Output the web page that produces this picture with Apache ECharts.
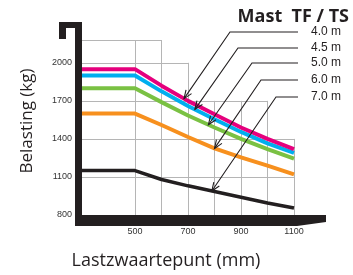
<!DOCTYPE html>
<html>
<head>
<meta charset="utf-8">
<script src="https://cdn.jsdelivr.net/npm/echarts@6/dist/echarts.min.js"></script>
<style>
  html, body { margin: 0; padding: 0; background: #fff; }
  #chart { width: 353px; height: 275px; }
</style>
</head>
<body>
<div id="chart"></div>
<script>
// lastzwaartepunt (mm) en belasting (kg) per mast
var distances = [300, 400, 500, 600, 700, 800, 900, 1000, 1100];
var mast40 = [1950, 1950, 1950, 1820, 1700, 1595, 1490, 1400, 1320];
var mast45 = [1900, 1900, 1900, 1775, 1660, 1555, 1455, 1365, 1290];
var mast50 = [1800, 1800, 1800, 1690, 1585, 1490, 1400, 1320, 1245];
var mast60 = [1600, 1600, 1600, 1510, 1415, 1325, 1255, 1190, 1120];
var mast70 = [1150, 1150, 1150, 1080, 1030, 985, 940, 895, 855];
var mastNames = ['4.0 m', '4.5 m', '5.0 m', '6.0 m', '7.0 m'];
var xTicks = [500, 700, 900, 1100];
var yTicks = [800, 1100, 1400, 1700, 2000];

// getrapt raster achter de lijnen
var gridV = [500, 600, 700, 800, 900, 1000, 1100];
var gridVTop = [2180, 2180, 2000, 1700, 1700, 1700, 1400];
var gridH = [2180, 2000, 1700, 1400, 1100];
var gridHEnd = [600, 700, 1000, 1100, 1100];

var allMasts = [mast40, mast45, mast50, mast60, mast70];
var colors = ['#E5007D', '#00AEEF', '#7AC143', '#F7901E', '#231F20'];
var ink = '#231F20';

var chartDom = document.getElementById('chart');
var myChart = echarts.init(chartDom);

var gridLines = [];
gridV.forEach(function (x, i) {
  gridLines.push({ coords: [[x, 800], [x, gridVTop[i]]] });
});
gridH.forEach(function (y, i) {
  gridLines.push({ coords: [[300, y], [gridHEnd[i], y]] });
});

var series = [{
  type: 'lines',
  coordinateSystem: 'cartesian2d',
  silent: true,
  z: 1,
  lineStyle: { color: '#b5b5b5', width: 1, opacity: 1 },
  data: gridLines
}];
// 7.0 m eerst, 4.0 m bovenop
for (var i = allMasts.length - 1; i >= 0; i--) {
  series.push({
    name: mastNames[i],
    type: 'line',
    z: 3,
    showSymbol: false,
    lineStyle: { color: colors[i], width: i === 4 ? 3.5 : 4 },
    data: distances.map(function (d, j) { return [d, allMasts[i][j]]; })
  });
}

var option = {
  animation: false,
  grid: { left: 82, right: 59, top: 40, bottom: 60 },
  xAxis: {
    type: 'value',
    min: 300,
    max: 1100,
    interval: 100,
    axisLine: { show: false },
    axisTick: { show: false },
    splitLine: { show: false },
    axisLabel: {
      margin: 12,
      fontSize: 9,
      color: '#333',
      fontFamily: 'Liberation Sans',
      formatter: function (v) { return xTicks.indexOf(v) >= 0 ? v : ''; }
    }
  },
  yAxis: {
    type: 'value',
    min: 800,
    max: 2180,
    interval: 300,
    axisLine: { show: false },
    axisTick: { show: false },
    splitLine: { show: false },
    axisLabel: {
      margin: 10,
      fontSize: 9,
      color: '#333',
      fontFamily: 'Liberation Sans',
      formatter: function (v) { return yTicks.indexOf(v) >= 0 ? v : ''; }
    }
  },
  series: series
};
option && myChart.setOption(option);

// ---- heftruck-vorm, titels en verwijzingen ----
function px(x, y) { return myChart.convertToPixel({ gridIndex: 0 }, [x, y]); }
function valueAt(arr, x) {
  for (var k = 0; k < distances.length - 1; k++) {
    if (x >= distances[k] && x <= distances[k + 1]) {
      var t = (x - distances[k]) / (distances[k + 1] - distances[k]);
      return arr[k] + t * (arr[k + 1] - arr[k]);
    }
  }
  return arr[arr.length - 1];
}

function drawExtras() {
  var o = px(300, 800);
  var e = px(1100, 800);
  var topY = px(300, 2180)[1] - 18;
  var ox = o[0], oy = o[1], ex = e[0];

  var graphic = [];
  graphic.push({
    type: 'polygon',
    z: 10,
    shape: {
      points: [
        [ox - 23, topY], [ox, topY], [ox, oy], [ex + 32, oy], [ex + 32, oy + 7],
        [ex + 3, oy + 11], [ox - 7, oy + 11], [ox - 7, topY + 6], [ox - 16, topY + 6],
        [ox - 16, topY + 17], [ox - 23, topY + 17]
      ]
    },
    style: { fill: ink }
  });

  // pijlen van label naar curve
  var tipX = [685, 726, 777, 800, 790];
  var elbows = [[230, 32], [238, 48], [252, 63], [261, 80], [276, 97]];
  var labelX = 311, lineEnd = 298;
  tipX.forEach(function (tx, i) {
    var tip = px(tx, valueAt(allMasts[i], tx));
    var el = elbows[i];
    graphic.push({
      type: 'polyline',
      z: 11,
      shape: { points: [[lineEnd, el[1]], [el[0], el[1]], [tip[0], tip[1]]] },
      style: { stroke: ink, lineWidth: 1.1, fill: null }
    });
    var ang = Math.atan2(el[1] - tip[1], el[0] - tip[0]);
    var len = 9, spread = 0.38;
    graphic.push({
      type: 'polyline',
      z: 11,
      shape: {
        points: [
          [tip[0] + len * Math.cos(ang - spread), tip[1] + len * Math.sin(ang - spread)],
          [tip[0], tip[1]],
          [tip[0] + len * Math.cos(ang + spread), tip[1] + len * Math.sin(ang + spread)]
        ]
      },
      style: { stroke: ink, lineWidth: 1.1, fill: null }
    });
    graphic.push({
      type: 'text',
      z: 11,
      x: labelX,
      y: el[1],
      style: {
        text: mastNames[i],
        fill: ink,
        font: '12px "Liberation Sans"',
        verticalAlign: 'middle'
      }
    });
  });

  graphic.push({
    type: 'text',
    z: 11,
    x: 349,
    y: 17,
    style: {
      text: 'Mast  TF / TS',
      fill: ink,
      font: 'bold 18px "Open Sans"',
      align: 'right',
      verticalAlign: 'middle'
    }
  });
  graphic.push({
    type: 'text',
    z: 11,
    x: 27,
    y: 121,
    rotation: Math.PI / 2,
    style: {
      text: 'Belasting (kg)',
      fill: ink,
      font: '17px "Open Sans"',
      align: 'center',
      verticalAlign: 'middle'
    }
  });
  graphic.push({
    type: 'text',
    z: 11,
    x: 166,
    y: 261,
    style: {
      text: 'Lastzwaartepunt (mm)',
      fill: ink,
      font: '18px "Open Sans"',
      align: 'center',
      verticalAlign: 'middle'
    }
  });

  myChart.setOption({ graphic: graphic });
}
drawExtras();
</script>
</body>
</html>
